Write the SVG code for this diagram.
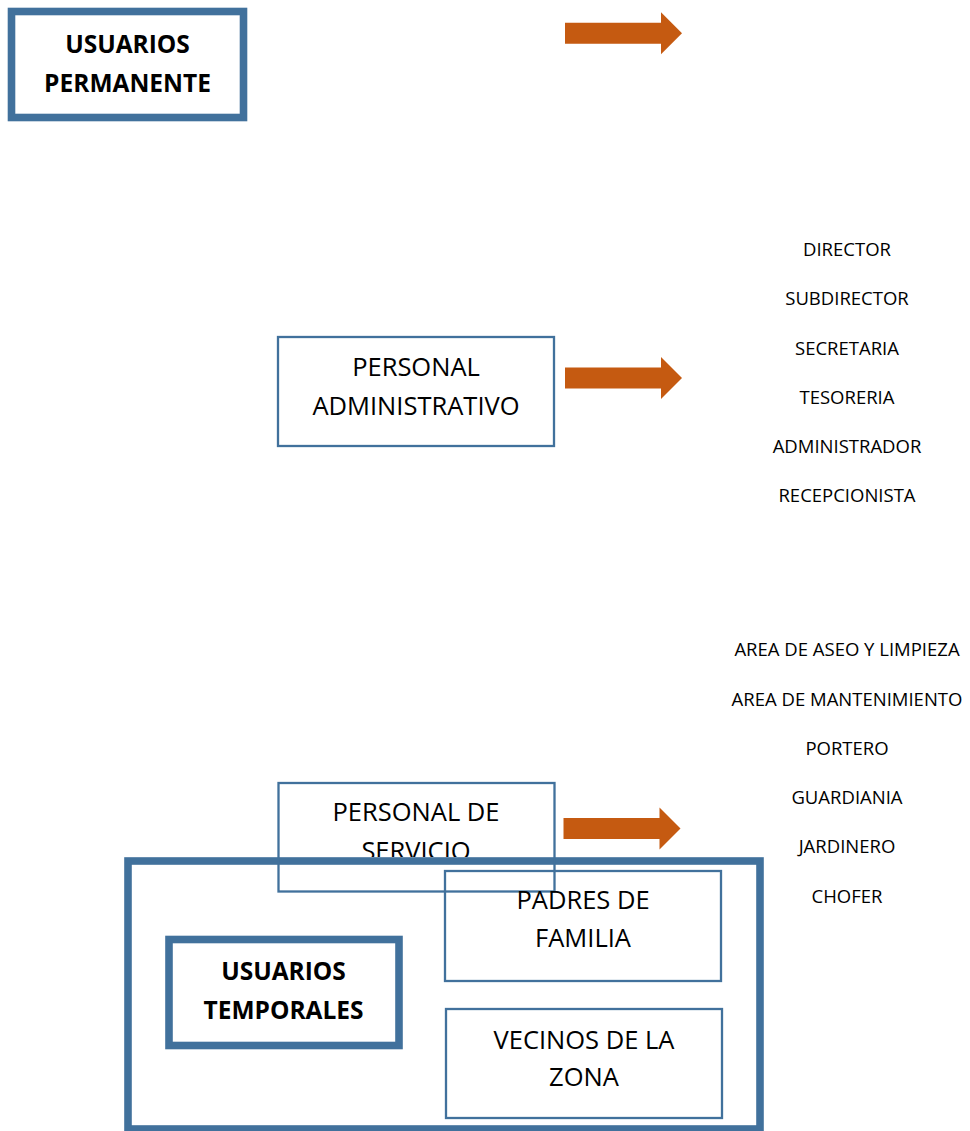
<svg xmlns="http://www.w3.org/2000/svg" width="970" height="1131" viewBox="0 0 970 1131">
<style>
.thick{fill:none;stroke:#41719C;stroke-width:7.6}
.thin{fill:none;stroke:#41719C;stroke-width:2.3}
.bold{font-family:"Open Sans","Liberation Sans",sans-serif;font-weight:bold;font-size:24.5px;fill:#000;text-anchor:middle}
.lbl{font-family:"Open Sans","Liberation Sans",sans-serif;font-size:25.5px;fill:#000;text-anchor:middle}
.item{font-family:"Open Sans","Liberation Sans",sans-serif;font-size:18.5px;fill:#000;text-anchor:middle}
.arrow{fill:#C55A11}
</style>
<defs>
<path id="arr" d="M0,-10.5 H96 V-21 L117,0 L96,21 V10.5 H0 Z"/>
<clipPath id="clipServ"><rect x="270" y="775" width="300" height="82"/></clipPath>
</defs>
<rect width="970" height="1131" fill="#fff"/>
<g id="usuarios-permanente">
<rect class="thick" x="11.5" y="11.5" width="232" height="106"/>
<text class="bold" x="127.5" y="53">USUARIOS</text>
<text class="bold" x="127.5" y="92">PERMANENTE</text>
</g>
<g id="connectors">
<use href="#arr" class="arrow" transform="translate(565,33.3)"/>
<use href="#arr" class="arrow" transform="translate(565,378)"/>
<use href="#arr" class="arrow" transform="translate(563.5,828.4)"/>
</g>
<g id="personal-administrativo">
<rect class="thin" x="278" y="337" width="276" height="109"/>
<text class="lbl" x="416" y="376">PERSONAL</text>
<text class="lbl" x="416" y="415">ADMINISTRATIVO</text>
</g>
<g id="lista-administrativo">
<text class="item" x="847" y="256">DIRECTOR</text>
<text class="item" x="847" y="305.3">SUBDIRECTOR</text>
<text class="item" x="847" y="354.5">SECRETARIA</text>
<text class="item" x="847" y="403.8">TESORERIA</text>
<text class="item" x="847" y="453">ADMINISTRADOR</text>
<text class="item" x="847" y="502.2">RECEPCIONISTA</text>
</g>
<g id="lista-servicio">
<text class="item" x="847" y="656">AREA DE ASEO Y LIMPIEZA</text>
<text class="item" x="847" y="705.5">AREA DE MANTENIMIENTO</text>
<text class="item" x="847" y="754.8">PORTERO</text>
<text class="item" x="847" y="804">GUARDIANIA</text>
<text class="item" x="847" y="853.3">JARDINERO</text>
<text class="item" x="847" y="903">CHOFER</text>
</g>
<g id="usuarios-temporales-grupo">
<rect class="thick" x="128" y="861" width="632" height="268" stroke-width="8"/>
</g>
<g id="personal-servicio">
<rect class="thin" x="278.5" y="783" width="276" height="108.5"/>
<text class="lbl" x="416" y="821" clip-path="url(#clipServ)">PERSONAL DE</text>
<text class="lbl" x="416" y="859.5" clip-path="url(#clipServ)">SERVICIO</text>
</g>
<g id="padres-familia">
<rect class="thin" x="445" y="871" width="276" height="110"/>
<text class="lbl" x="583" y="909.3">PADRES DE</text>
<text class="lbl" x="583" y="947.3">FAMILIA</text>
</g>
<g id="vecinos-zona">
<rect class="thin" x="446" y="1009" width="276" height="109"/>
<text class="lbl" x="584" y="1049.3">VECINOS DE LA</text>
<text class="lbl" x="584" y="1086">ZONA</text>
</g>
<g id="usuarios-temporales">
<rect class="thick" x="169" y="939.5" width="230" height="106"/>
<text class="bold" x="283.5" y="980">USUARIOS</text>
<text class="bold" x="283.5" y="1018.5">TEMPORALES</text>
</g>
</svg>
